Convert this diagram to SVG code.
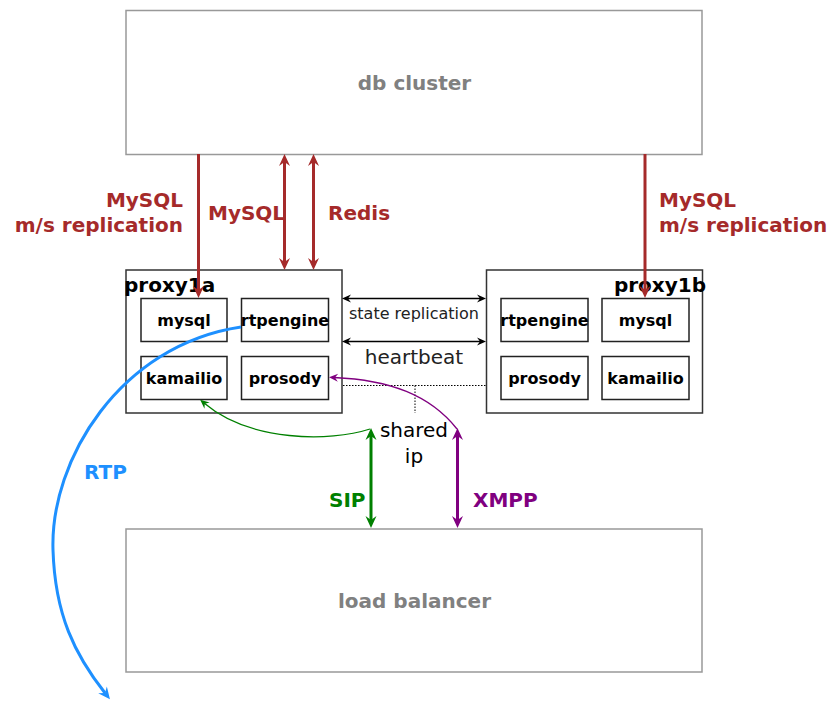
<svg xmlns="http://www.w3.org/2000/svg" width="830" height="702" viewBox="0 0 830 702">
<style>
text{font-family:"DejaVu Sans","Liberation Sans",sans-serif}
.big{fill:none;stroke:#999;stroke-width:1.5}
.px{fill:#fff;stroke:#333;stroke-width:1.5}
.in{fill:#fff;stroke:#222;stroke-width:1.5}
.bt{font-size:20px;font-weight:bold;fill:#808080;text-anchor:middle}
.pt{font-size:20px;font-weight:bold;fill:#000}
.it{font-size:16px;font-weight:bold;fill:#000;text-anchor:middle}
.red{stroke:#a52a2a;stroke-width:3;fill:none}
.rl{font-size:20px;font-weight:bold;fill:#a52a2a}
.blk{stroke:#000;stroke-width:1.5;fill:none}
.dot{stroke:#000;stroke-width:1;stroke-dasharray:1.5,1.5;fill:none}
</style>
<defs>
<marker id="mr" viewBox="-13 -6 14 12" refX="-8" refY="0" markerWidth="14" markerHeight="12" markerUnits="userSpaceOnUse" orient="auto-start-reverse"><path d="M0,0 L-12,-5.5 L-8,0 L-12,5.5 Z" fill="#a52a2a"/></marker>
<marker id="mg" viewBox="-13 -6 14 12" refX="-8" refY="0" markerWidth="14" markerHeight="12" markerUnits="userSpaceOnUse" orient="auto-start-reverse"><path d="M0,0 L-12,-5.5 L-8,0 L-12,5.5 Z" fill="#008000"/></marker>
<marker id="mp" viewBox="-13 -6 14 12" refX="-8" refY="0" markerWidth="14" markerHeight="12" markerUnits="userSpaceOnUse" orient="auto-start-reverse"><path d="M0,0 L-12,-5.5 L-8,0 L-12,5.5 Z" fill="#800080"/></marker>
<marker id="mb" viewBox="-13 -6 14 12" refX="-8" refY="0" markerWidth="14" markerHeight="12" markerUnits="userSpaceOnUse" orient="auto-start-reverse"><path d="M0,0 L-12,-5.5 L-8,0 L-12,5.5 Z" fill="#1e90ff"/></marker>
<marker id="sk" viewBox="-10 -5 11 10" refX="-5" refY="0" markerWidth="11" markerHeight="10" markerUnits="userSpaceOnUse" orient="auto-start-reverse"><path d="M0,0 L-9,-4 L-6,0 L-9,4 Z" fill="#000"/></marker>
<marker id="sg" viewBox="-10 -5 11 10" refX="-5" refY="0" markerWidth="11" markerHeight="10" markerUnits="userSpaceOnUse" orient="auto-start-reverse"><path d="M0,0 L-9,-4 L-6,0 L-9,4 Z" fill="#008000"/></marker>
<marker id="sp" viewBox="-10 -5 11 10" refX="-5" refY="0" markerWidth="11" markerHeight="10" markerUnits="userSpaceOnUse" orient="auto-start-reverse"><path d="M0,0 L-9,-4 L-6,0 L-9,4 Z" fill="#800080"/></marker>
</defs>

<g id="db-cluster">
<rect class="big" x="126" y="10.5" width="576" height="144"/>
<text class="bt" x="414.5" y="90">db cluster</text>
</g>

<g id="load-balancer">
<rect class="big" x="126" y="529" width="576" height="143"/>
<text class="bt" x="414.5" y="608">load balancer</text>
</g>

<g id="proxy1a">
<rect class="px" x="126" y="270" width="216" height="143"/>
<text class="pt" x="124" y="292">proxy1a</text>
<g id="proxy1a-mysql"><rect class="in" x="141" y="298.5" width="86" height="43"/><text class="it" x="184" y="326">mysql</text></g>
<g id="proxy1a-rtpengine"><rect class="in" x="241.5" y="298.5" width="87" height="43"/><text class="it" x="285" y="326">rtpengine</text></g>
<g id="proxy1a-kamailio"><rect class="in" x="141" y="356.5" width="86" height="43"/><text class="it" x="184" y="384">kamailio</text></g>
<g id="proxy1a-prosody"><rect class="in" x="241.5" y="356.5" width="87" height="43"/><text class="it" x="285" y="384">prosody</text></g>
</g>

<g id="proxy1b">
<rect class="px" x="486.5" y="270" width="216" height="143"/>
<text class="pt" x="706" y="292" text-anchor="end">proxy1b</text>
<g id="proxy1b-rtpengine"><rect class="in" x="501" y="298.5" width="87" height="43"/><text class="it" x="544.5" y="326">rtpengine</text></g>
<g id="proxy1b-mysql"><rect class="in" x="602" y="298.5" width="87" height="43"/><text class="it" x="645.5" y="326">mysql</text></g>
<g id="proxy1b-prosody"><rect class="in" x="501" y="356.5" width="87" height="43"/><text class="it" x="544.5" y="384">prosody</text></g>
<g id="proxy1b-kamailio"><rect class="in" x="602" y="356.5" width="87" height="43"/><text class="it" x="645.5" y="384">kamailio</text></g>
</g>

<g id="connectors">
<line class="red" x1="198.5" y1="154" x2="198.5" y2="290" marker-end="url(#mr)"/>
<line class="red" x1="284.5" y1="162" x2="284.5" y2="262" marker-start="url(#mr)" marker-end="url(#mr)"/>
<line class="red" x1="313.5" y1="162" x2="313.5" y2="262" marker-start="url(#mr)" marker-end="url(#mr)"/>
<line class="red" x1="645" y1="154" x2="645" y2="290" marker-end="url(#mr)"/>
<line class="blk" x1="347" y1="298.5" x2="481" y2="298.5" marker-start="url(#sk)" marker-end="url(#sk)"/>
<line class="blk" x1="347" y1="341.5" x2="481" y2="341.5" marker-start="url(#sk)" marker-end="url(#sk)"/>
<polyline class="dot" points="343,385.5 486,385.5"/>
<polyline class="dot" points="415,385.5 415,413"/>
<line x1="371" y1="436" x2="371" y2="520" stroke="#008000" stroke-width="3" marker-start="url(#mg)" marker-end="url(#mg)"/>
<line x1="457.5" y1="436" x2="457.5" y2="520" stroke="#800080" stroke-width="3" marker-start="url(#mp)" marker-end="url(#mp)"/>
<path d="M370,429 C330,442 250,442 204,403" stroke="#008000" stroke-width="1.3" fill="none" marker-end="url(#sg)"/>
<path d="M457,429 C430,395 390,380 334,377.5" stroke="#800080" stroke-width="1.3" fill="none" marker-end="url(#sp)"/>
<path d="M241,327 C120,345 50,460 53,550 C55,615 75,655 105,693" stroke="#1e90ff" stroke-width="3" fill="none" marker-end="url(#mb)"/>
</g>

<g id="labels">
<text class="rl" text-anchor="end" x="183" y="207">MySQL</text>
<text class="rl" text-anchor="end" x="183" y="232">m/s replication</text>
<text class="rl" x="208" y="220">MySQL</text>
<text class="rl" x="328" y="220">Redis</text>
<text class="rl" x="659" y="207">MySQL</text>
<text class="rl" x="659" y="232">m/s replication</text>
<text x="414" y="319" font-size="16" fill="#222" text-anchor="middle">state replication</text>
<text x="414" y="364" font-size="20" fill="#222" text-anchor="middle">heartbeat</text>
<text x="414" y="437" font-size="20" fill="#000" text-anchor="middle">shared</text>
<text x="414" y="463" font-size="20" fill="#000" text-anchor="middle">ip</text>
<text x="329" y="507" font-size="20" font-weight="bold" fill="#008000">SIP</text>
<text x="473" y="507" font-size="20" font-weight="bold" fill="#800080">XMPP</text>
<text x="84" y="479" font-size="20" font-weight="bold" fill="#1e90ff">RTP</text>
</g>
</svg>
